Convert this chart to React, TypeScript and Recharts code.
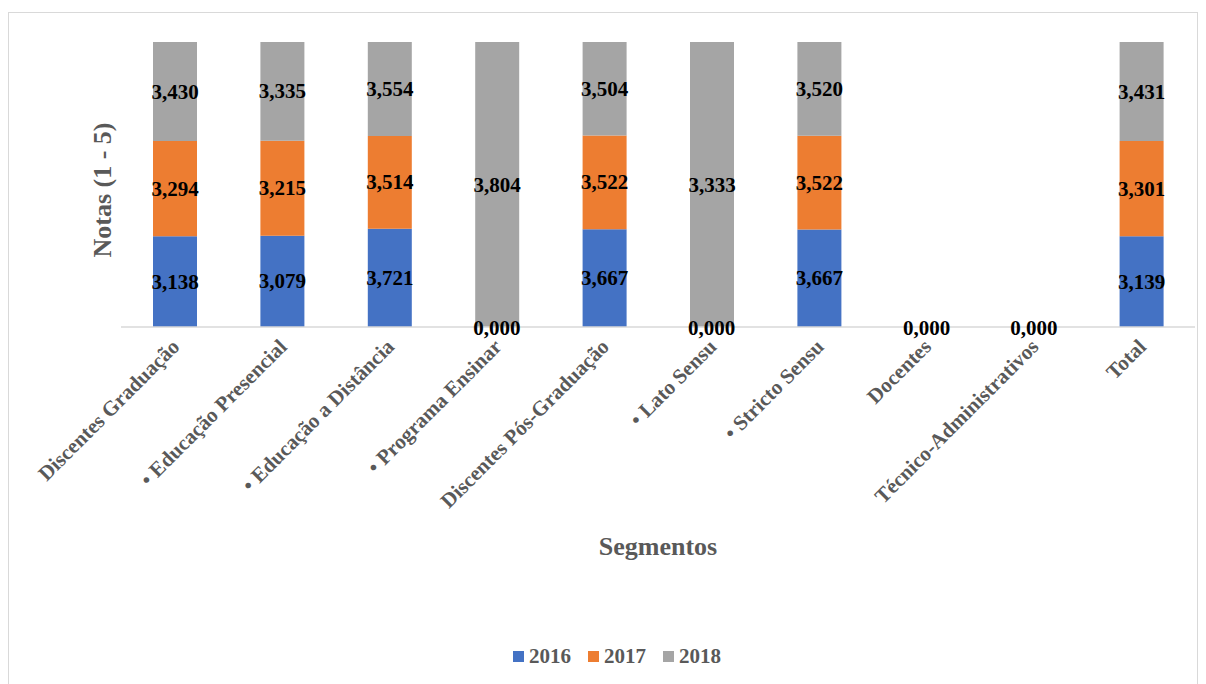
import { BarChart, Bar, XAxis, YAxis, LabelList, ReferenceDot } from "recharts";

const categories = [
    "Discentes Graduação",
    "• Educação Presencial",
    "• Educação a Distância",
    "• Programa Ensinar",
    "Discentes Pós-Graduação",
    "• Lato Sensu",
    "• Stricto Sensu",
    "Docentes",
    "Técnico-Administrativos",
    "Total",
];
const values2016 = [3.138, 3.079, 3.721, 0, 3.667, 0, 3.667, 0, 0, 3.139];
const values2017 = [3.294, 3.215, 3.514, null, 3.522, null, 3.522, null, null, 3.301];
const values2018 = [3.43, 3.335, 3.554, 3.804, 3.504, 3.333, 3.52, null, null, 3.431];
const years = ["2016", "2017", "2018"];
const colors = ["#4472C4", "#ED7D31", "#A5A5A5"];

const data = categories.map((name, i) => ({
    name,
    y2016: values2016[i],
    y2017: values2017[i],
    y2018: values2018[i],
}));

// categories whose 2016 value is zero get a "0,000" label on the baseline
const zeroCats = categories.filter((_, i) => values2016[i] === 0);

const FONT = "'Liberation Serif', 'Times New Roman', serif";

const fmt = (v: number) => v.toFixed(3).replace(".", ",");

const labelText = (x: number, y: number, v: number) => (
    <text
        x={x}
        y={y}
        textAnchor="middle"
        dominantBaseline="central"
        fontFamily={FONT}
        fontWeight="bold"
        fontSize={21}
        fill="#000"
    >
        {fmt(v)}
    </text>
);

const renderLabel = (props: any) => {
    const { x, y, width, height, value } = props;
    if (value === null || value === undefined || Number(value) === 0) return null;
    return labelText(Number(x) + Number(width) / 2, Number(y) + Number(height) / 2, Number(value));
};

const renderTick = (props: any) => {
    const { x, y, payload } = props;
    return (
        <g transform={`translate(${x + 6},${y + 13})`}>
            <text
                transform="rotate(-45)"
                textAnchor="end"
                fontFamily={FONT}
                fontWeight="bold"
                fontSize={21}
                fill="#595959"
            >
                {payload.value}
            </text>
        </g>
    );
};

export default function App() {
    return (
        <div style={{ position: "relative", width: 1198, height: 676, fontFamily: FONT }}>
            <div
                style={{
                    position: "absolute",
                    left: 0,
                    top: 4,
                    width: 1190,
                    height: 680,
                    border: "1px solid #d9d9d9",
                    boxSizing: "border-box",
                }}
            />
            <BarChart
                width={1198}
                height={676}
                data={data}
                stackOffset="expand"
                margin={{ top: 34, right: 11, left: 113, bottom: 0 }}
                style={{ position: "absolute", left: 0, top: 0 }}
            >
                <XAxis
                    dataKey="name"
                    interval={0}
                    height={357}
                    tickLine={false}
                    axisLine={{ stroke: "#d9d9d9", strokeWidth: 1.5 }}
                    tick={renderTick}
                />
                <YAxis hide domain={[0, 1]} />
                {years.map((yr, i) => (
                    <Bar
                        key={yr}
                        dataKey={`y${yr}`}
                        stackId="a"
                        fill={colors[i]}
                        barSize={44}
                        isAnimationActive={false}
                    >
                        <LabelList dataKey={`y${yr}`} content={renderLabel} />
                    </Bar>
                ))}
                {zeroCats.map((c) => (
                    <ReferenceDot
                        key={c}
                        x={c}
                        y={0}
                        r={0}
                        shape={(p: any) => labelText(p.cx, p.cy + 1, 0)}
                    />
                ))}
            </BarChart>
            <div
                style={{
                    position: "absolute",
                    left: 95,
                    top: 182,
                    transform: "translate(-50%, -50%) rotate(-90deg)",
                    fontWeight: "bold",
                    fontSize: 26,
                    color: "#595959",
                    whiteSpace: "nowrap",
                }}
            >
                Notas (1 - 5)
            </div>
            <div
                style={{
                    position: "absolute",
                    left: 650,
                    top: 539,
                    transform: "translate(-50%, -50%)",
                    fontWeight: "bold",
                    fontSize: 26,
                    color: "#595959",
                    whiteSpace: "nowrap",
                }}
            >
                Segmentos
            </div>
            <div
                style={{
                    position: "absolute",
                    left: 0,
                    width: 1218,
                    top: 636,
                    display: "flex",
                    justifyContent: "center",
                    gap: 17,
                    fontWeight: "bold",
                    fontSize: 21,
                    color: "#595959",
                }}
            >
                {years.map((yr, i) => (
                    <div key={yr} style={{ display: "flex", alignItems: "center", gap: 5 }}>
                        <span style={{ width: 11, height: 11, background: colors[i], display: "inline-block" }} />
                        <span>{yr}</span>
                    </div>
                ))}
            </div>
        </div>
    );
}
